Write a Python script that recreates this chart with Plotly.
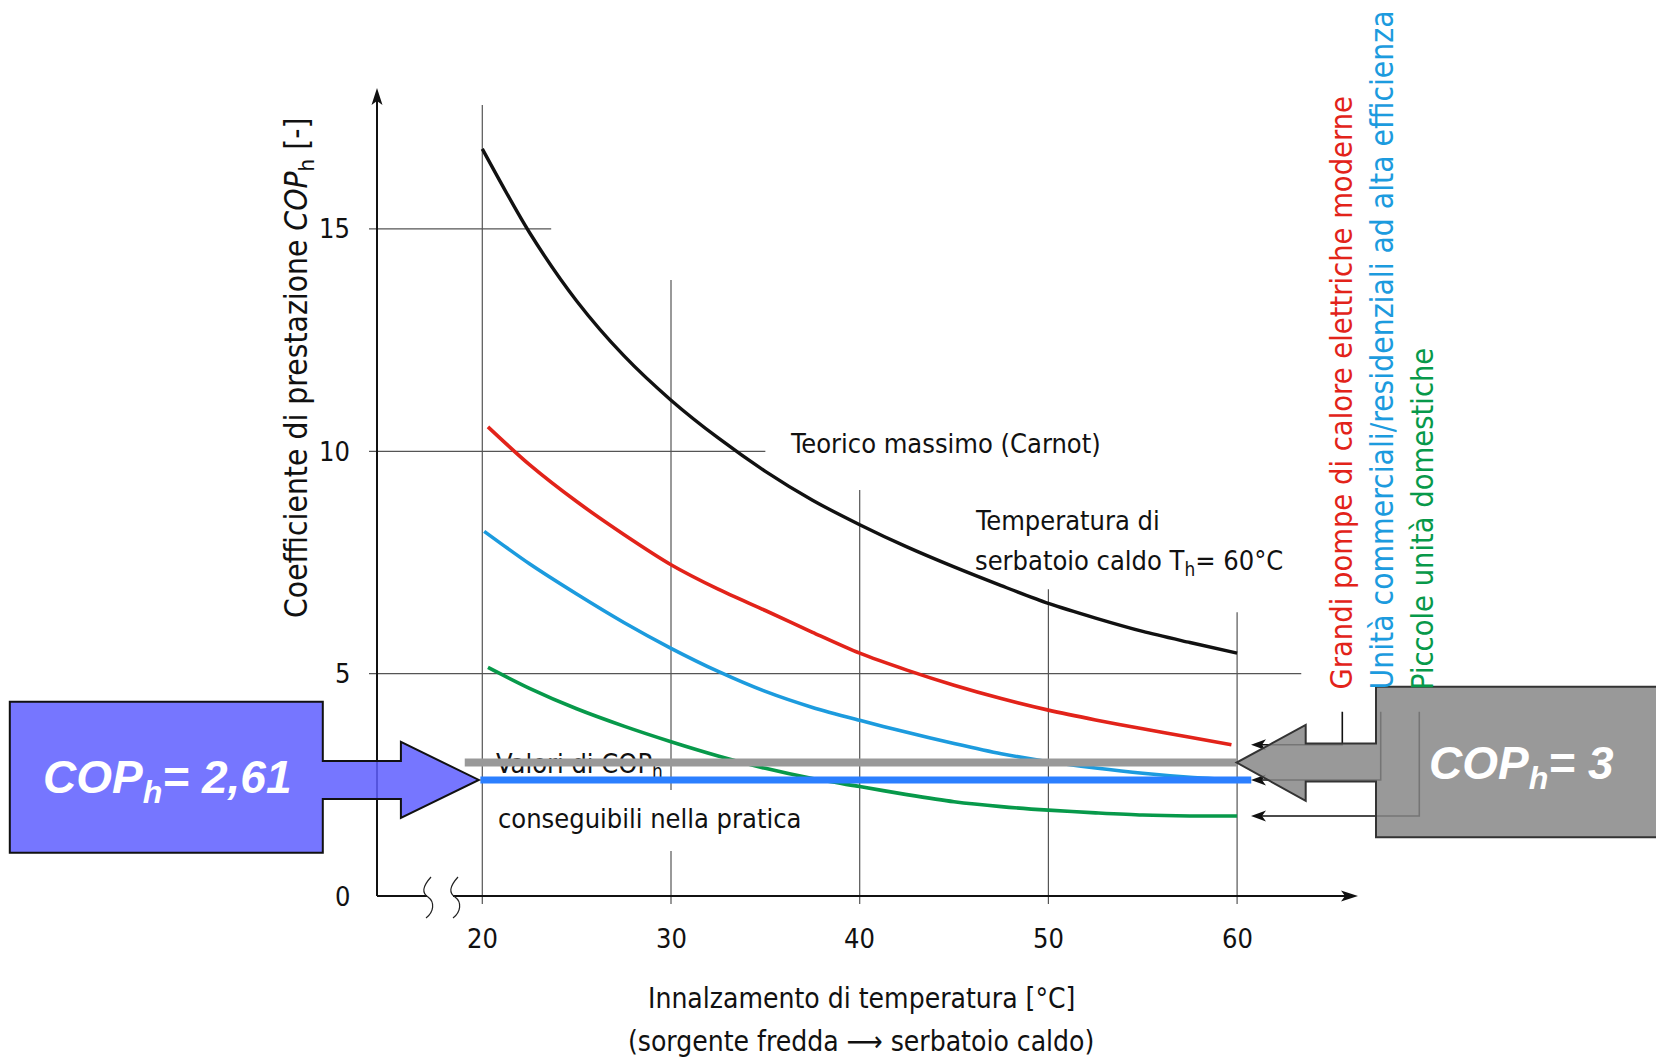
import plotly.graph_objects as go

# ---------------- data ----------------
dt_carnot = [20, 22.5, 25, 27.5, 30, 32.5, 35, 37.5, 40, 42.5, 45, 47.5, 50, 52.5, 55, 57.5, 60]
cop_carnot = [16.8, 14.92, 13.38, 12.15, 11.15, 10.3, 9.55, 8.9, 8.35, 7.85, 7.4, 6.98, 6.58, 6.25, 5.95, 5.7, 5.46]

dt_large = [20.3, 22.5, 25, 27.5, 30, 32.5, 35, 37.5, 40, 42.5, 45, 47.5, 50, 52.5, 55, 57.5, 59.7]
cop_large = [10.55, 9.7, 8.87, 8.13, 7.45, 6.9, 6.42, 5.93, 5.46, 5.08, 4.74, 4.44, 4.18, 3.96, 3.76, 3.57, 3.40]

dt_comm = [20.1, 22.5, 25, 27.5, 30, 32.5, 35, 37.5, 40, 42.5, 45, 47.5, 50, 52.5, 55, 57.5, 60]
cop_comm = [8.2, 7.47, 6.79, 6.15, 5.57, 5.05, 4.6, 4.24, 3.95, 3.68, 3.43, 3.2, 3.02, 2.88, 2.76, 2.67, 2.61]

dt_small = [20.3, 22.5, 25, 27.5, 30, 32.5, 35, 37.5, 40, 42.5, 45, 47.5, 50, 52.5, 55, 57.5, 60]
cop_small = [5.14, 4.67, 4.21, 3.82, 3.47, 3.15, 2.87, 2.64, 2.46, 2.28, 2.12, 2.01, 1.93, 1.87, 1.82, 1.80, 1.80]

cop_left = 2.61      # COP_h = 2,61 (blue level)
cop_right = 3.0      # COP_h = 3 (grey level)

x_ticks = [20, 30, 40, 50, 60]
y_ticks = [0, 5, 10, 15]
x_tick_labels = ["20", "30", "40", "50", "60"]
y_tick_labels = ["0", "5", "10", "15"]

# ---------------- canvas calibration ----------------
W, H = 1656, 1059
PX_X20, PX_PER_X = 482.3, 18.87
PY_Y0, PX_PER_Y = 896.0, 44.47
X0 = 20 - PX_X20 / PX_PER_X
X1 = X0 + W / PX_PER_X
Y1 = PY_Y0 / PX_PER_Y
Y0 = -(H - PY_Y0) / PX_PER_Y


def X(px):
    return X0 + px / PX_PER_X


def Y(py):
    return (PY_Y0 - py) / PX_PER_Y


def PXx(x):
    return (x - X0) * PX_PER_X


def PYy(y):
    return PY_Y0 - y * PX_PER_Y


def poly(pts, close=True):
    s = "M " + " L ".join(f"{X(a):.4f},{Y(b):.4f}" for a, b in pts)
    return s + (" Z" if close else "")


FONT = "Liberation Sans Narrow, DejaVu Sans Condensed, Arial Narrow, sans-serif"
RED, BLUE, GREEN, BLACK = "#E2231A", "#1C9BDE", "#07994A", "#111111"
GRID = "#555555"

fig = go.Figure()

shapes = []


def seg(x0, y0, x1, y1, color=GRID, width=1.2, layer="below"):
    shapes.append(dict(type="line", xref="x", yref="y", x0=x0, y0=y0, x1=x1, y1=y1,
                       line=dict(color=color, width=width), layer=layer))


# ---- partial grid lines ----
seg(X(369), 15, 23.65, 15)
seg(X(369), 10, 35.0, 10)
seg(X(369), 5, 63.4, 5)
seg(20, Y(904), 20, 17.79)
seg(30, Y(904), 30, Y(851))
seg(30, Y(790), 30, 13.85)
seg(40, Y(904), 40, 9.13)
seg(50, Y(904), 50, 6.9)
seg(60, Y(904), 60, 6.38)

# ---- axes ----
seg(X(377), 0, X(377), Y(100), color=BLACK, width=2, layer="above")
seg(X(377), 0, X(427), 0, color=BLACK, width=2, layer="above")
seg(X(453), 0, X(1346), 0, color=BLACK, width=2, layer="above")
shapes.append(dict(type="path", path=poly([(377, 88), (371.5, 105), (377, 101), (382.5, 105)]),
                   fillcolor=BLACK, line=dict(width=0), layer="above"))
shapes.append(dict(type="path", path=poly([(1358, 896), (1341, 890.5), (1345, 896), (1341, 901.5)]),
                   fillcolor=BLACK, line=dict(width=0), layer="above"))
for cx in (428, 455):
    p = (f"M {X(cx+3):.4f},{Y(877):.4f} C {X(cx-6):.4f},{Y(887):.4f} {X(cx-6):.4f},{Y(893):.4f} {X(cx):.4f},{Y(897):.4f} "
         f"C {X(cx+7):.4f},{Y(902):.4f} {X(cx+6):.4f},{Y(912):.4f} {X(cx-2):.4f},{Y(918):.4f}")
    shapes.append(dict(type="path", path=p, line=dict(color="#222", width=1.2), layer="above"))

# ---- curves ----
for xs, ys, col, w in [(dt_carnot, cop_carnot, BLACK, 3.4), (dt_large, cop_large, RED, 3.6),
                       (dt_comm, cop_comm, BLUE, 3.6), (dt_small, cop_small, GREEN, 3.6)]:
    fig.add_trace(go.Scatter(x=xs, y=ys, mode="lines",
                             line=dict(color=col, width=w, shape="spline", smoothing=0.8),
                             hoverinfo="skip"))

# text partially hidden under the grey level line (trace -> below shapes)
fig.add_trace(go.Scatter(x=[X(496)], y=[Y(766)], mode="text", text=["Valori di COP<sub>h</sub>"],
                         textposition="middle right", hoverinfo="skip",
                         textfont=dict(family=FONT, size=27, color=BLACK)))

# ---- COP horizontal levels ----
seg(19.07, cop_right, 60.0, cop_right, color="#999999", width=8, layer="above")
seg(19.9, cop_left, 60.75, cop_left, color="#2B7FFF", width=7, layer="above")

# ---- leader lines (drawn before semi-transparent grey arrow) ----
lead_x = [1342.3, 1380.7, 1419.3]
lead_y = [cop_large[-1], cop_comm[-1], cop_small[-1]]
for lx, ly in zip(lead_x, lead_y):
    py = PYy(ly)
    shapes.append(dict(type="path", path=poly([(lx, 711.7), (lx, py), (1262, py)], close=False),
                       line=dict(color=BLACK, width=1.6), layer="above"))
    shapes.append(dict(type="path", path=poly([(1251, py), (1266, py - 5.5), (1262, py), (1266, py + 5.5)]),
                       fillcolor=BLACK, line=dict(width=0), layer="above"))

# ---- right grey arrow ----
tipR = PYy(cop_right)
grey = [(1662, 686.7), (1376, 686.7), (1376, tipR - 19), (1305.7, tipR - 19), (1305.7, tipR - 37.7),
        (PXx(60) - 0.5, tipR), (1305.7, tipR + 38.3), (1305.7, tipR + 19), (1376, tipR + 19),
        (1376, 837.3), (1662, 837.3)]
shapes.append(dict(type="path", path=poly(grey), fillcolor="rgba(135,135,135,0.85)",
                   line=dict(color="#333333", width=2), layer="above"))

# ---- left blue arrow ----
tipL = PYy(cop_left)
blue_box = [(9.8, 701.7), (322.8, 701.7), (322.8, tipL - 19), (400.9, tipL - 19), (400.9, tipL - 38),
            (PXx(20) - 3.5, tipL), (400.9, tipL + 38), (400.9, tipL + 19), (322.8, tipL + 19),
            (322.8, 852.7), (9.8, 852.7)]
shapes.append(dict(type="path", path=poly(blue_box), fillcolor="rgba(96,96,255,0.86)",
                   line=dict(color="#111111", width=2), layer="above"))

# ---------------- text ----------------
ann = []


def txt(px, py, text, size=27, color=BLACK, xanchor="center", yanchor="middle", angle=0, family=FONT):
    ann.append(dict(x=X(px), y=Y(py), xref="x", yref="y", text=text, showarrow=False,
                    xanchor=xanchor, yanchor=yanchor, textangle=angle,
                    font=dict(family=family, size=size, color=color)))


for v, lab in zip(y_ticks, y_tick_labels):
    txt(352, PYy(v), lab, xanchor="right")
for v, lab in zip(x_ticks, x_tick_labels):
    txt(PXx(v), 938, lab)

txt(298, 368, "Coefficiente di prestazione <i>COP</i><sub>h</sub> [-]", size=31.5, angle=-90)
txt(861, 998, "Innalzamento di temperatura [°C]", size=28)
txt(861, 1041, "(sorgente fredda ⟶ serbatoio caldo)", size=28)
txt(788, 443, "Teorico massimo (Carnot)", xanchor="left")
txt(973, 520, "Temperatura di", xanchor="left")
txt(973, 562, "serbatoio caldo T<sub>h</sub>= 60°C", xanchor="left")
txt(496, 818, "conseguibili nella pratica", xanchor="left")

txt(1341, 692, "Grandi pompe di calore elettriche moderne", size=30.5, color=RED, angle=-90, yanchor="bottom")
txt(1381, 692, "Unità commerciali/residenziali ad alta efficienza", size=31.5, color=BLUE, angle=-90, yanchor="bottom")
txt(1422, 692, "Piccole unità domestiche", size=30.5, color=GREEN, angle=-90, yanchor="bottom")

txt(167, 780, "<b><i>COP<sub>h</sub>= 2,61</i></b>", size=46, color="white",
    family="Liberation Sans, Arial, sans-serif")
txt(1521, 766, "<b><i>COP<sub>h</sub>= 3</i></b>", size=46, color="white",
    family="Liberation Sans, Arial, sans-serif")

fig.update_layout(
    width=W, height=H, margin=dict(l=0, r=0, t=0, b=0),
    paper_bgcolor="white", plot_bgcolor="white", showlegend=False,
    xaxis=dict(range=[X0, X1], visible=False, fixedrange=True),
    yaxis=dict(range=[Y0, Y1], visible=False, fixedrange=True),
    shapes=shapes, annotations=ann,
)

fig.write_html("out.html", config={"displayModeBar": False},
               post_script="document.body.style.margin='0';document.body.style.overflow='hidden';")
